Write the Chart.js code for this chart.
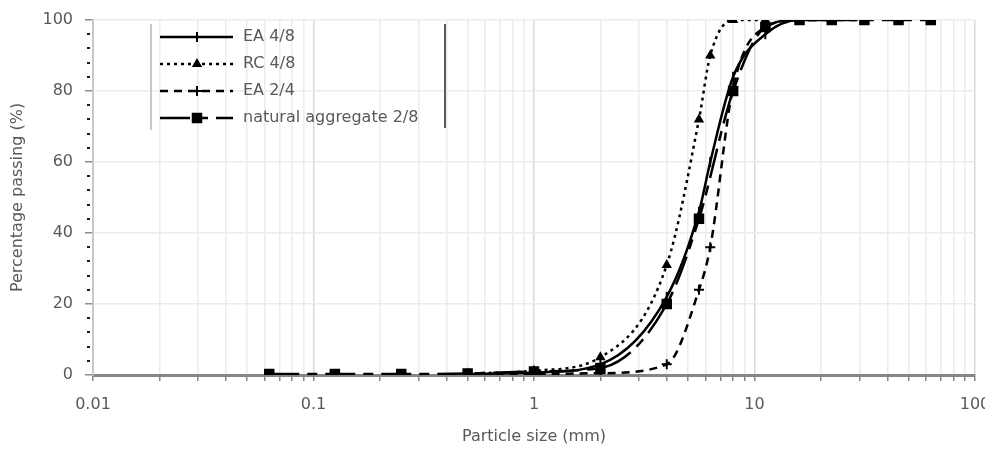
<!DOCTYPE html>
<html>
<head>
<meta charset="utf-8">
<script src="https://cdn.jsdelivr.net/npm/chart.js@4.4.1/dist/chart.umd.min.js"></script>
<style>
  html, body { margin: 0; padding: 0; background: #ffffff; }
  #wrap { width: 985px; height: 450px; position: relative; }
</style>
</head>
<body>
<div id="wrap"><canvas id="grading"></canvas></div>
<script>
// Sieve sizes (mm) and cumulative percentage passing for each material
const sieveSizes = [0.063, 0.125, 0.25, 0.5, 1, 2, 4, 5.6, 6.3, 8, 11.2, 16, 22.4, 31.5, 45, 63];
const seriesNames = ['EA 4/8', 'RC 4/8', 'EA 2/4', 'natural aggregate 2/8'];
const passingEA48 = [null, null, null, 0.3, 0.7, 3, 22, 46, 60, 84, 96, 100, 100, null, null, null];
const passingRC48 = [null, null, null, 0.4, 1.2, 5, 31, 72, 90, 100, 100, null, null, null, null, null];
const passingEA24 = [null, null, null, 0.2, 0.3, 0.5, 3, 24, 36, 81, 98, 100, 100, 100, null, null];
const passingNatural = [0.3, 0.3, 0.3, 0.4, 1, 2, 20, 44, null, 80, 98, 100, 100, 100, 100, 100];
const yTickValues = [0, 20, 40, 60, 80, 100];
const xDecadeLabels = { 0.01: '0.01', 0.1: '0.1', 1: '1', 10: '10', 100: '100' };

const textColor = '#595959';
const fontFamily = '"DejaVu Sans", "Liberation Sans", sans-serif';
const fontSize = 16;

function toPoints(values) {
  return sieveSizes.map((s, i) => ({ x: s, y: values[i] }));
}

const lineStyles = [
  { dash: [], point: 'line', rotation: 90, radius: 5 },
  { dash: [3, 4], point: 'triangle', rotation: 0, radius: 4 },
  { dash: [8, 6], point: 'cross', rotation: 0, radius: 5 },
  { dash: [30, 8, 10, 8], point: 'rect', rotation: 0, radius: 6 }
];

const seriesValues = [passingEA48, passingRC48, passingEA24, passingNatural];
const datasets = seriesValues.map((vals, i) => ({
  label: seriesNames[i],
  data: toPoints(vals),
  borderColor: '#000000',
  backgroundColor: '#000000',
  borderWidth: 2.5,
  borderDash: lineStyles[i].dash,
  pointStyle: lineStyles[i].point,
  rotation: lineStyles[i].rotation,
  pointRadius: lineStyles[i].radius,
  pointBorderWidth: 2,
  pointBorderColor: '#000000',
  pointBackgroundColor: '#000000',
  cubicInterpolationMode: 'monotone',
  spanGaps: true,
  fill: false
}));

function isDecade(v) {
  const l = Math.log10(v);
  return Math.abs(l - Math.round(l)) < 1e-9;
}

// Minor tick marks on the left axis and the inset legend
const extras = {
  id: 'extras',
  afterDraw(chart) {
    const ctx = chart.ctx;
    const y = chart.scales.y;
    const area = chart.chartArea;
    ctx.save();
    ctx.fillStyle = '#1a1a1a';
    for (let v = 4; v < 100; v += 4) {
      if (v % 20 === 0) continue;
      const py = y.getPixelForValue(v);
      ctx.fillRect(area.left - 6, Math.round(py) - 1, 3, 2);
    }

    // legend box edges
    ctx.strokeStyle = '#c8c8c8';
    ctx.lineWidth = 2;
    ctx.beginPath(); ctx.moveTo(151, 24); ctx.lineTo(151, 130); ctx.stroke();
    ctx.strokeStyle = '#5a5a5a';
    ctx.beginPath(); ctx.moveTo(445, 24); ctx.lineTo(445, 128); ctx.stroke();

    chart.data.datasets.forEach((ds, i) => {
      const ly = 37 + i * 27;
      ctx.save();
      ctx.strokeStyle = ds.borderColor;
      ctx.lineWidth = ds.borderWidth;
      ctx.setLineDash(ds.borderDash);
      ctx.beginPath(); ctx.moveTo(160, ly); ctx.lineTo(233, ly); ctx.stroke();
      ctx.restore();
      ctx.save();
      ctx.fillStyle = ds.pointBackgroundColor;
      ctx.strokeStyle = ds.pointBorderColor;
      ctx.lineWidth = 2;
      Chart.helpers.drawPoint(ctx, {
        pointStyle: ds.pointStyle, rotation: ds.rotation, radius: ds.pointRadius, borderWidth: 2
      }, 197, ly);
      ctx.restore();
      ctx.fillStyle = textColor;
      ctx.font = fontSize + 'px ' + fontFamily;
      ctx.textBaseline = 'middle';
      ctx.textAlign = 'left';
      ctx.fillText(ds.label, 243, ly);
    });
    ctx.restore();
  }
};

new Chart(document.getElementById('grading'), {
  type: 'line',
  data: { datasets },
  plugins: [extras],
  options: {
    responsive: true,
    maintainAspectRatio: false,
    animation: false,
    layout: { padding: { top: 20, right: 10, left: 0, bottom: 0 } },
    plugins: { legend: { display: false }, tooltip: { enabled: false } },
    scales: {
      x: {
        type: 'logarithmic',
        min: 0.01,
        max: 100,
        afterBuildTicks(scale) {
          const ticks = [];
          for (let e = -2; e <= 1; e++) {
            for (let m = 1; m <= 9; m++) ticks.push({ value: +(m * Math.pow(10, e)).toPrecision(6) });
          }
          ticks.push({ value: 100 });
          scale.ticks = ticks;
        },
        afterFit(scale) {
          scale.height = 75;
          scale.paddingLeft = 0;
          scale.paddingRight = 0;
        },
        border: { display: true, color: '#868686', width: 3 },
        grid: {
          color: ctx => isDecade(ctx.tick.value) ? '#d9d9d9' : '#ececec',
          lineWidth: 1.5,
          tickColor: '#868686',
          tickLength: 6,
          drawTicks: true
        },
        ticks: {
          autoSkip: false,
          maxRotation: 0,
          padding: 14,
          color: textColor,
          font: { size: fontSize, family: fontFamily },
          callback: v => xDecadeLabels[v] !== undefined ? xDecadeLabels[v] : (isDecade(v) ? String(v) : '')
        },
        title: {
          display: true,
          text: 'Particle size (mm)',
          color: textColor,
          font: { size: fontSize, family: fontFamily },
          padding: { top: 4, bottom: 4 }
        }
      },
      y: {
        type: 'linear',
        min: 0,
        max: 100,
        afterBuildTicks(scale) {
          scale.ticks = yTickValues.map(v => ({ value: v }));
        },
        afterFit(scale) {
          scale.width = 93;
          scale.paddingTop = 0;
          scale.paddingBottom = 0;
        },
        border: { display: true, color: '#c8c8c8', width: 2 },
        grid: {
          color: '#ebebeb',
          lineWidth: 1.5,
          tickColor: '#8c8c8c',
          tickLength: 8
        },
        ticks: {
          padding: 12,
          color: textColor,
          font: { size: fontSize, family: fontFamily }
        },
        title: {
          display: true,
          text: 'Percentage passing (%)',
          color: textColor,
          font: { size: fontSize, family: fontFamily },
          padding: { top: 8, bottom: 4 }
        }
      }
    }
  }
});
</script>
</body>
</html>
